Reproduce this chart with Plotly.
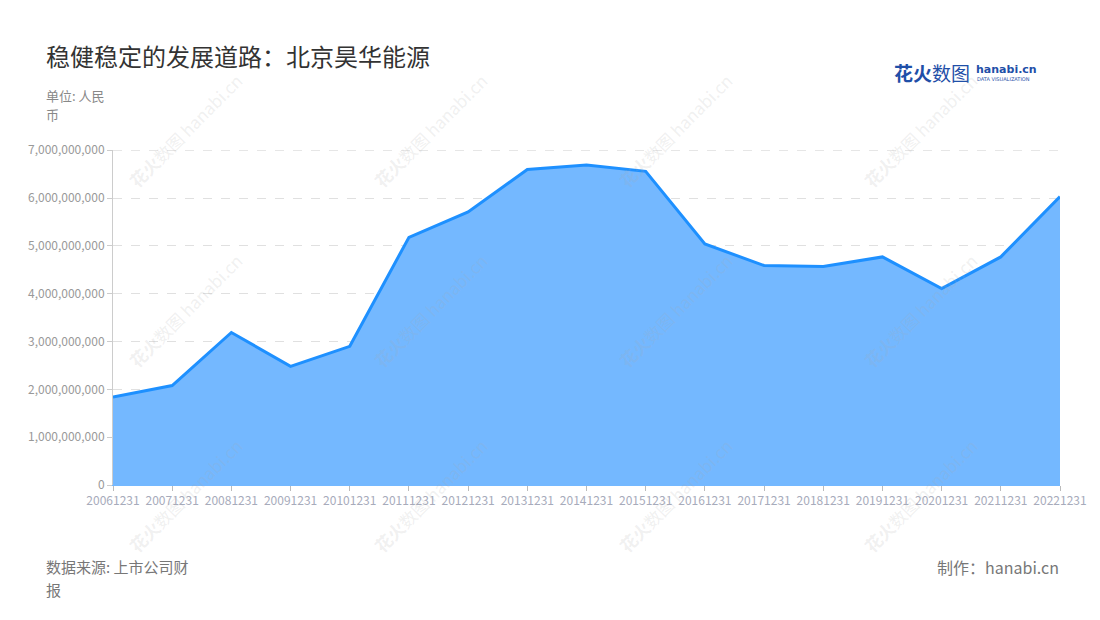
import plotly.graph_objects as go

years = ["20061231", "20071231", "20081231", "20091231", "20101231", "20111231",
         "20121231", "20131231", "20141231", "20151231", "20161231", "20171231",
         "20181231", "20191231", "20201231", "20211231", "20221231"]
values = [1.84e9, 2.08e9, 3.19e9, 2.48e9, 2.90e9, 5.18e9, 5.71e9, 6.60e9, 6.69e9,
          6.56e9, 5.04e9, 4.59e9, 4.57e9, 4.77e9, 4.11e9, 4.77e9, 6.03e9]
y_ticks = [0, 1e9, 2e9, 3e9, 4e9, 5e9, 6e9, 7e9]

FONT = "Noto Sans CJK SC"
OFF = 8  # page body margin offset
L, R, T, B = 113 - OFF, 40 + OFF, 150 - OFF, 135 + OFF
W, H = 1100, 620

fig = go.Figure()
fig.add_trace(go.Scatter(
    x=list(range(len(years))), y=values, mode="lines",
    line=dict(color="#1e90ff", width=3),
    fill="tozeroy", fillcolor="rgba(116,184,255,1)",
    hoverinfo="x+y", showlegend=False,
))

fig.update_layout(
    width=W, height=H,
    margin=dict(l=L, r=R, t=T, b=B),
    paper_bgcolor="white", plot_bgcolor="white",
    font=dict(family=FONT),
    xaxis=dict(
        range=[0, len(years) - 1], tickmode="array",
        tickvals=list(range(len(years))), ticktext=years,
        showgrid=False, zeroline=False,
        showline=True, linecolor="#74b8ff", linewidth=1,
        ticks="outside", ticklen=5, tickcolor="#bbbbbb",
        tickfont=dict(size=12, color="#a7abbb", family=FONT),
    ),
    yaxis=dict(
        range=[0, 7.006e9], tickmode="array", tickvals=y_ticks,
        tickformat=",d", showgrid=True, gridcolor="#e0e0e0", griddash="dash",
        gridwidth=1, zeroline=False, showline=True, linecolor="#cccccc",
        linewidth=1, ticks="outside", ticklen=5, tickcolor="#cccccc",
        tickfont=dict(size=12, color="#999999", family=FONT),
    ),
)
# top gridline at the maximum tick
fig.add_shape(type="line", xref="x domain", yref="y", x0=0, x1=1,
              y0=y_ticks[-1], y1=y_ticks[-1], layer="below",
              line=dict(color="#e0e0e0", width=1, dash="dash"))

ann = []
ann.append(dict(text="稳健稳定的发展道路：北京昊华能源", x=44, y=55,
                xanchor="left", yanchor="middle",
                font=dict(size=24, color="#333333", family=FONT)))
ann.append(dict(text="单位: 人民", x=44, y=96, xanchor="left", yanchor="middle",
                font=dict(size=13, color="#888888", family=FONT)))
ann.append(dict(text="币", x=44, y=114, xanchor="left", yanchor="middle",
                font=dict(size=13, color="#888888", family=FONT)))
ann.append(dict(text="数据来源: 上市公司财", x=44, y=566, xanchor="left",
                yanchor="middle", font=dict(size=15, color="#777777", family=FONT)))
ann.append(dict(text="报", x=44, y=589, xanchor="left",
                yanchor="middle", font=dict(size=15, color="#777777", family=FONT)))
ann.append(dict(text="制作：hanabi.cn", x=1061, y=567, xanchor="right",
                yanchor="middle", font=dict(size=16, color="#777777", family=FONT)))
# logo
ann.append(dict(text="<b>花火</b>数图", x=892, y=72, xanchor="left",
                yanchor="middle", font=dict(size=19, color="#1f4fa8", family=FONT)))
ann.append(dict(text="<b>hanabi.cn</b>", x=974, y=69, xanchor="left",
                yanchor="middle", font=dict(size=11, color="#1f4fa8", family="DejaVu Sans")))
ann.append(dict(text="DATA VISUALIZATION", x=975, y=79, xanchor="left",
                yanchor="middle", font=dict(size=5, color="#1f4fa8", family="DejaVu Sans")))

# watermarks
for cx in [185, 430, 675, 920]:
    for cy in [130, 310, 495]:
        ann.append(dict(text="<b>花火</b>数图 hanabi.cn", x=cx, y=cy,
                        xanchor="center", yanchor="middle", textangle=-45,
                        font=dict(size=17, color="rgba(170,170,170,0.18)", family=FONT)))

fixed = []
for a in ann:
    a = dict(a)
    px, py = a["x"] - OFF, a["y"] - OFF
    a["showarrow"] = False
    a["xref"] = "paper"
    a["yref"] = "paper"
    a["x"] = (px - L) / (W - L - R)
    a["y"] = (H - B - py) / (H - T - B)
    fixed.append(a)
fig.update_layout(annotations=fixed)

fig.write_html("out.html")
